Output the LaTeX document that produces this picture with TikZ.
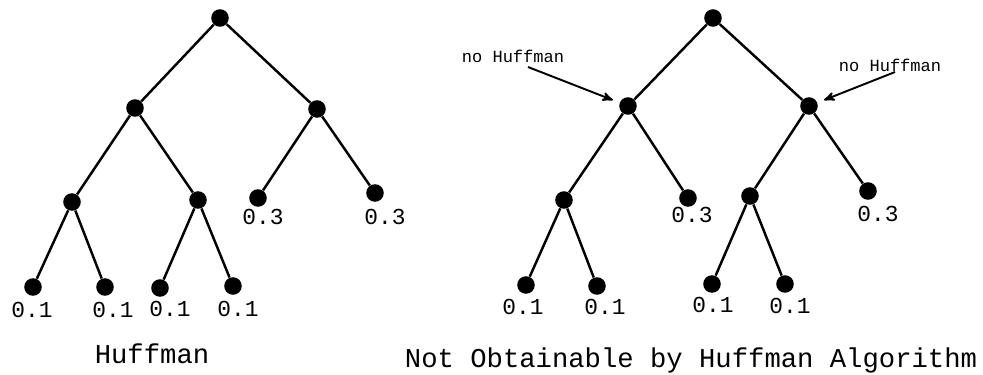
\documentclass[tikz,border=0pt]{standalone}
\usepackage{fontspec}
\setmonofont{Liberation Mono}
\usetikzlibrary{arrows}

\tikzset{
  dot/.style = {circle, fill = black, inner sep = 0pt, minimum size = 10pt},
  val/.style = {font = \ttfamily\fontsize{13}{13}\selectfont, anchor = base, inner sep = 0pt},
  caption/.style = {font = \ttfamily\fontsize{15.5}{16}\selectfont, anchor = base, inner sep = 0pt},
  note/.style = {font = \ttfamily\fontsize{9.7}{10}\selectfont, anchor = base, inner sep = 0pt},
  edge/.style = {line width = 1.4pt},
  pointer/.style = {-stealth', line width = 1.1pt, shorten >= 4pt}
}

\begin{document}
\begin{tikzpicture}[x = 0.2mm, y = -0.2mm]
\useasboundingbox (0, 0) rectangle (983, 374);

% left tree
\node [dot] (l) at (220, 18) {};
\node [dot] (la) at (135, 108) {};
\node [dot] (lb) at (317, 109) {};
\node [dot] (laa) at (72, 202) {};
\node [dot] (lab) at (198, 200) {};
\node [dot] (lba) at (258, 198) {};
\node [dot] (lbb) at (375, 193) {};
\node [dot] (laaa) at (33, 287) {};
\node [dot] (laab) at (105, 287) {};
\node [dot] (laba) at (160, 288) {};
\node [dot] (labb) at (233, 286) {};

\draw [edge] (l) -- (la) (l) -- (lb);
\draw [edge] (la) -- (laa) (la) -- (lab);
\draw [edge] (lb) -- (lba) (lb) -- (lbb);
\draw [edge] (laa) -- (laaa) (laa) -- (laab);
\draw [edge] (lab) -- (laba) (lab) -- (labb);

\node [val] (vlaaa) at (32, 317) {0.1};
\node [val] (vlaab) at (113, 317) {0.1};
\node [val] (vlaba) at (170, 316) {0.1};
\node [val] (vlabb) at (238, 316) {0.1};
\node [val] (vlba) at (263, 224) {0.3};
\node [val] (vlbb) at (385, 224) {0.3};
\node [caption] (capl) at (152, 363) {Huffman};

% right tree
\node [dot] (r) at (713, 18) {};
\node [dot] (ra) at (628, 106) {};
\node [dot] (rb) at (809, 106) {};
\node [dot] (raa) at (564, 200) {};
\node [dot] (rab) at (688, 198) {};
\node [dot] (rba) at (750, 196) {};
\node [dot] (rbb) at (868, 191) {};
\node [dot] (raaa) at (526, 285) {};
\node [dot] (raab) at (597, 286) {};
\node [dot] (rbaa) at (712, 284) {};
\node [dot] (rbab) at (785, 284) {};

\draw [edge] (r) -- (ra) (r) -- (rb);
\draw [edge] (ra) -- (raa) (ra) -- (rab);
\draw [edge] (rb) -- (rba) (rb) -- (rbb);
\draw [edge] (raa) -- (raaa) (raa) -- (raab);
\draw [edge] (rba) -- (rbaa) (rba) -- (rbab);

\node [val] (vraaa) at (523, 314) {0.1};
\node [val] (vraab) at (605, 314) {0.1};
\node [val] (vrbaa) at (713, 312) {0.1};
\node [val] (vrbab) at (790, 313) {0.1};
\node [val] (vrab) at (692, 222) {0.3};
\node [val] (vrbb) at (878, 221) {0.3};
\node [caption] (capr) at (691, 367) {Not Obtainable by Huffman Algorithm};

% notes
\node [note] (nol) at (513, 62) {no Huffman};
\node [note] (nor) at (890, 71) {no Huffman};
\coordinate (tl) at (528, 67);
\coordinate (tr) at (895, 72);
\draw [pointer] (tl) -- (ra);
\draw [pointer] (tr) -- (rb);
\end{tikzpicture}
\end{document}
